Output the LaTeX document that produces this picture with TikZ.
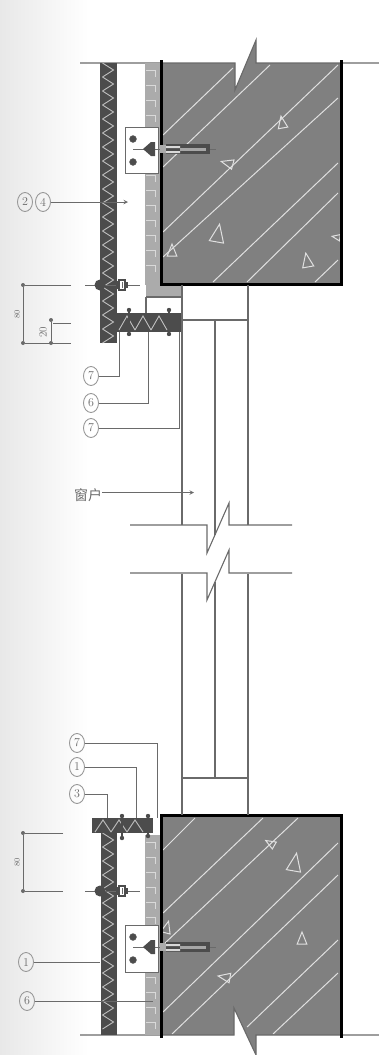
\documentclass[tikz,border=0pt]{standalone}
\usepackage{fontspec}
\newfontfamily\cjk{Noto Sans CJK SC}
\usetikzlibrary{shapes.geometric}
\definecolor{concrete}{HTML}{808080}
\definecolor{linegray}{HTML}{6A6A6A}
\definecolor{panelgray}{HTML}{4C4C4C}
\definecolor{mortar}{HTML}{ABABAB}
\newcommand{\zigv}[3]{\foreach \y in {#1,#3,...,#2} {\draw[zig] (102.5,\y)--(113.5,\y+7)--(102.5,\y+14);}}
\newcommand{\zigh}[5]{\foreach \x in {#1,#5,...,#2} {\draw[zig] (\x,#4)--(\x+8,#3)--(\x+16,#4);}}
\newcommand{\tri}[4]{\draw[aggregate,shift={(#1,#2)},rotate=#3] (0,-#4)--(#4*0.8,#4)--(-#4*0.8,#4)--cycle;}
\newcommand{\pin}[3]{\draw[line width=1.6pt,panelgray] (#1,#2)--(#1,#3); \fill[panelgray] (#1,#2) circle (2.2) (#1,#3) circle (2.2);}
\newcommand{\boltrow}[1]{
    \draw[line width=0.8pt,linegray] (85,#1)--(140,#1);
    \fill[panelgray] (100,#1) circle (5.5);
    \draw[fill=white,draw=panelgray,line width=1.4pt] (119,#1-5) rectangle (125,#1+5);
    \fill[panelgray] (116,#1-4) rectangle (119,#1+4);
    \fill[panelgray] (125,#1-3) rectangle (128,#1+3);
    \draw[line width=0.7pt,linegray] (122,#1-3)--(122,#1+3);
}
\newcommand{\bracket}[2]{
    \draw[fill=white,draw=linegray,line width=0.9pt] (125,#1) rectangle (158,#2);
    \draw[fill=panelgray,draw=linegray] (133,#1+12) circle (3.5) (133,#1+35) circle (3.5);
    \draw[line width=0.8pt,linegray] (133,#1+22)--(216,#1+22);
    \fill[panelgray] (143,#1+22)--(151,#1+15)--(155,#1+15)--(155,#1+29)--(151,#1+29)--cycle;
    \fill[mortar] (160,#1+18) rectangle (166,#1+26);
    \fill[panelgray] (166,#1+17) rectangle (210,#1+27);
    \fill[white!85!black] (166,#1+19) rectangle (180,#1+21) (166,#1+24) rectangle (180,#1+26);
    \fill[concrete!70!white] (180,#1+20.5) rectangle (206,#1+23.5);
}
\newcommand{\brick}[4]{
    \fill[mortar] (145,#1) rectangle (160,#2);
    \foreach \y in {#1,#3,...,#4} {\draw[brickline] (146,\y+7)--(155,\y+7)--(155,\y+14);}
}

\begin{document}
\begin{tikzpicture}[x=1pt,y=-1pt,
    wall/.style={draw=black,line width=3pt},
    thin line/.style={draw=linegray,line width=1.1pt},
    leader/.style={draw=linegray,line width=1pt},
    hatch/.style={draw=white!88!black,line width=1pt},
    aggregate/.style={draw=white!88!black,line width=1pt},
    zig/.style={draw=white!75!black,line width=0.9pt},
    brickline/.style={draw=white!85!black,line width=0.9pt},
    tag/.style={draw=white!60!black,line width=0.9pt,ellipse,inner sep=0pt,minimum width=15pt,minimum height=19pt,text=linegray,font=\fontsize{12}{12}\selectfont},
    dimtext/.style={text=linegray,inner sep=0pt,rotate=90,font=\fontsize{8}{8}\selectfont},
    enddot/.style={circle,fill=linegray,inner sep=0pt,minimum size=4pt}]
    \useasboundingbox (0,0) rectangle (379,1055);
    \shade[left color=black!9,right color=white] (0,0) rectangle (88,1055);

    % Upper slab
    \fill[concrete] (161,63)--(235,63)--(235,90)--(256,40)--(256,63)--(341,63)--(341,284)--(161,284)--cycle;
    \foreach \a/\b/\c/\d in {163/135/233/68,163/167/270/65,163/232/338/65,163/257/338/98,213/282/338/163,247/282/338/193,315/282/338/260}
        \draw[hatch] (\a,\b)--(\c,\d);
    \tri{282}{122}{10}{6}
    \tri{227}{163}{75}{6}
    \tri{218}{233}{-10}{9}
    \tri{172}{250}{0}{6}
    \tri{307}{260}{10}{7}
    \tri{336}{237}{80}{4}
    \draw[thin line] (80,63)--(235,63)--(235,90)--(256,40)--(256,63)--(379,63);
    \brick{63}{285}{78}{265}
    \fill[mortar] (146,285) rectangle (181,297);
    \draw[wall] (161,60)--(161,284.5)--(341,284.5)--(341,60);

    % Lower slab
    \fill[concrete] (161,815)--(341,815)--(341,1035)--(256,1035)--(256,1055)--(234,1008)--(234,1035)--(161,1035)--cycle;
    \foreach \a/\b/\c/\d in {163/850/195/818,163/913/263/818,165/943/298/818,163/1012/338/843,172/1034/338/875,247/1027/338/940,273/1034/338/973}
        \draw[hatch] (\a,\b)--(\c,\d);
    \tri{270}{843}{60}{5}
    \tri{295}{862}{-10}{9}
    \tri{302}{938}{0}{6}
    \tri{224}{977}{80}{6}
    \tri{167}{927}{-15}{6}
    \draw[thin line] (80,1035)--(234,1035)--(234,1008)--(256,1055)--(256,1035)--(379,1035);
    \brick{835}{1035}{850}{1015}
    \draw[wall] (161,1038)--(161,815)--(341,815)--(341,1038);

    % Window
    \draw[thin line] (146,297)--(146,313) (146,297)--(181,297) (182,285)--(182,525) (248,285)--(248,525) (215,320)--(215,535) (182,320)--(248,320);
    \draw[thin line] (182,574)--(182,815) (248,574)--(248,815) (215,582)--(215,778) (182,778)--(248,778);
    \draw[thin line] (130,525)--(207,525)--(207,553)--(229,503)--(229,525)--(292,525);
    \draw[thin line] (130,573)--(207,573)--(207,600)--(229,550)--(229,573)--(292,573);

    % Cladding panels
    \fill[panelgray] (100,63) rectangle (117,343);
    \zigv{63}{329}{77}
    \fill[panelgray] (101,833) rectangle (117,1035);
    \zigv{833}{1021}{847}
    \fill[panelgray] (117,313) rectangle (181,332);
    \zigh{119}{165}{316}{330}{135}
    \fill[panelgray] (92,818) rectangle (153,833);
    \zigh{95}{135}{820}{832}{111}
    \pin{129}{310}{334}
    \pin{169}{310}{334}
    \pin{122}{816}{838}
    \pin{148}{816}{836}
    \boltrow{285}
    \boltrow{891}
    \bracket{127}{173}
    \bracket{925}{972}

    % Labels
    \node[tag] (tag-2) at (25,202) {2};
    \node[tag] (tag-4) at (43,202) {4};
    \node[tag] (tag-7-a) at (91,376) {7};
    \node[tag] (tag-6-a) at (91,403) {6};
    \node[tag] (tag-7-b) at (91,428) {7};
    \node[tag] (tag-7-c) at (77,743) {7};
    \node[tag] (tag-1-a) at (77,767) {1};
    \node[tag] (tag-3) at (77,794) {3};
    \node[tag] (tag-1-b) at (26,962) {1};
    \node[tag] (tag-6-b) at (27,1001) {6};
    \node[text=linegray,inner sep=0pt,font=\fontsize{14}{14}\selectfont\cjk] (window) at (88,495) {窗户};

    \coordinate (end-24) at (128,202);
    \coordinate (end-7-a) at (119,332);
    \coordinate (end-6-a) at (148,332);
    \coordinate (end-7-b) at (179,332);
    \coordinate (end-window) at (194,492.5);
    \coordinate (end-7-c) at (157,818);
    \coordinate (end-1-a) at (136,818);
    \coordinate (end-3) at (107,818);
    \coordinate (end-1-b) at (100,962);
    \coordinate (end-6-b) at (153,1001);

    \draw[leader,-stealth] (tag-4) -- (end-24);
    \draw[leader] (tag-7-a) -| (end-7-a);
    \draw[leader] (tag-6-a) -| (end-6-a);
    \draw[leader] (tag-7-b) -| (end-7-b);
    \draw[leader,-stealth] (window.east |- end-window) -- (end-window);
    \draw[leader] (tag-7-c) -| (end-7-c);
    \draw[leader] (tag-1-a) -| (end-1-a);
    \draw[leader] (tag-3) -| (end-3);
    \draw[leader] (tag-1-b) -- (end-1-b);
    \draw[leader] (tag-6-b) -- (end-6-b);

    % Dimensions
    \node[enddot] (dim-a) at (23,285) {};
    \node[enddot] (dim-b) at (23,343) {};
    \node[enddot] (dim-c) at (51,343) {};
    \node[enddot] (dim-d) at (51,320) {};
    \node[enddot] (dim-e) at (23,833) {};
    \node[enddot] (dim-f) at (23,891) {};
    \coordinate (dim-a-end) at (71,285);
    \coordinate (dim-b-end) at (71,343);
    \coordinate (dim-d-end) at (71,323);
    \coordinate (dim-e-end) at (63,833);
    \coordinate (dim-f-end) at (63,891);
    \draw[leader] (dim-a-end) -- (dim-a) -- (dim-b) -- (dim-b-end);
    \draw[leader] (dim-d) -- (dim-c);
    \draw[leader] (dim-d.east |- dim-d-end) -- (dim-d-end);
    \draw[leader] (dim-e-end) -- (dim-e) -- (dim-f) -- (dim-f-end);
    \node[dimtext] (dim-text-a) at (17,314) {80};
    \node[dimtext,font=\fontsize{11}{11}\selectfont] (dim-text-b) at (43,332) {20};
    \node[dimtext] (dim-text-c) at (17,862) {80};
\end{tikzpicture}
\end{document}
